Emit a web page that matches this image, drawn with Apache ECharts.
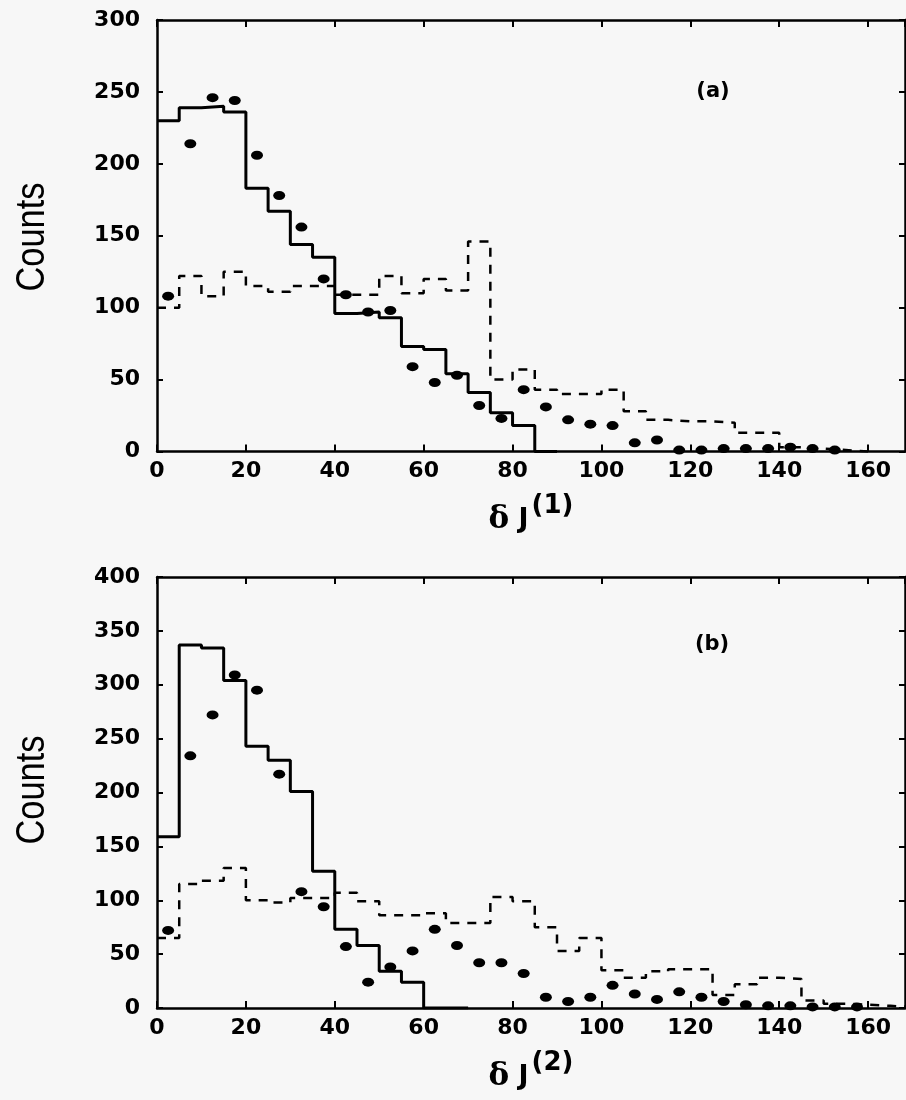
<!DOCTYPE html>
<html><head><meta charset="utf-8">
<script src="https://cdn.jsdelivr.net/npm/echarts@6/dist/echarts.min.js"></script>
<style>html,body{margin:0;padding:0;background:#f7f7f7}#c{width:906px;height:1100px}</style>
</head><body><div id="c"></div>
<script>
// bin left edges (bin width 5)
const binEdges = [0,5,10,15,20,25,30,35,40,45,50,55,60,65,70,75,80,85,90,95,100,105,110,115,120,125,130,135,140,145,150,155,160,165,170];
const xTickLabels = [0,20,40,60,80,100,120,140,160];
const panelLabels = ['(a)','(b)'];
const axisSup = ['(1)','(2)'];
const yTitle = 'Counts';

// Panel (a): delta J(1)
const aSolid  = [230,239,240,236,183,167,144,135,96,97,93,73,71,54,41,27,18,0];
const aDashed = [100,122,108,125,115,111,115,115,109,109,122,110,120,112,146,50,57,43,40,40,43,28,22,21,21,20,13,13,3,2,1,0];
const aDots   = [108,214,246,244,206,178,156,120,109,97,98,59,48,53,32,23,43,31,22,19,18,6,8,1,1,2,2,2,3,2,1];

// Panel (b): delta J(2)
const bSolid  = [159,337,334,304,243,230,201,127,73,58,34,24,0,0];
const bDashed = [65,115,118,130,100,98,102,102,107,99,86,86,88,79,79,103,99,75,53,65,35,28,34,36,36,12,22,28,27,7,4,3,2,1];
const bDots   = [72,234,272,309,295,217,108,94,57,24,38,53,73,58,42,42,32,10,6,10,21,13,8,15,10,6,3,2,2,1,1,1];

function stepData(vals){
  const d = vals.map((v,i)=>[binEdges[i], v]);
  d.push([binEdges[vals.length], vals[vals.length-1]]);
  return d;
}
function dotData(vals){
  return vals.map((v,i)=>[(binEdges[i]+binEdges[i+1])/2, v]);
}

const FONT = 'DejaVu Sans';
const XMAX = 168.3;
const grids = [
  {left:157, top:20, width:748, height:431.5},
  {left:157, top:577, width:748, height:431}
];
const yMax = [300, 400];

const xAxes = [], yAxes = [], series = [];
grids.forEach((g, gi)=>{
  xAxes.push({
    gridIndex: gi, type:'value', min:0, max:XMAX, interval:20, position:'bottom',
    axisLine:{show:true, onZero:false, lineStyle:{color:'#000', width:2.5}},
    axisTick:{show:true, inside:true, length:7, lineStyle:{color:'#000', width:2}},
    axisLabel:{show:true, margin:9, color:'#000', fontFamily:FONT, fontWeight:'bold', fontSize:22,
      showMaxLabel:false,
      formatter:(v)=> xTickLabels.indexOf(v) >= 0 ? String(v) : ''},
    splitLine:{show:false},
    name: '{d|δ} {j|J}{s|' + axisSup[gi] + '}',
    nameLocation:'middle', nameGap:42,
    nameTextStyle:{color:'#000', rich:{
      d:{fontFamily:'DejaVu Serif', fontWeight:'bold', fontSize:31, lineHeight:42, verticalAlign:'bottom', color:'#000', padding:[0,4,0,0]},
      j:{fontFamily:FONT, fontWeight:'bold', fontSize:27, lineHeight:42, verticalAlign:'bottom', color:'#000', padding:[0,3,2,2]},
      s:{fontFamily:FONT, fontWeight:'bold', fontSize:26, lineHeight:42, verticalAlign:'top', color:'#000'}
    }}
  });
  xAxes.push({
    gridIndex: gi, type:'value', min:0, max:XMAX, interval:20, position:'top',
    axisLine:{show:true, onZero:false, lineStyle:{color:'#000', width:2.5}},
    axisTick:{show:true, inside:true, length:7, lineStyle:{color:'#000', width:2}},
    axisLabel:{show:false}, splitLine:{show:false}
  });
  yAxes.push({
    gridIndex: gi, type:'value', min:0, max:yMax[gi], interval:50, position:'left',
    axisLine:{show:true, onZero:false, lineStyle:{color:'#000', width:2.5}},
    axisTick:{show:true, inside:true, length:6, lineStyle:{color:'#000', width:2}},
    axisLabel:{show:true, margin:17, color:'#000', fontFamily:FONT, fontWeight:'bold', fontSize:22},
    splitLine:{show:false}
  });
  yAxes.push({
    gridIndex: gi, type:'value', min:0, max:yMax[gi], interval:50, position:'right',
    axisLine:{show:true, onZero:false, lineStyle:{color:'#000', width:2.5}},
    axisTick:{show:true, inside:true, length:6, lineStyle:{color:'#000', width:2}},
    axisLabel:{show:false}, splitLine:{show:false}
  });
});

const sets = [[aSolid,aDashed,aDots],[bSolid,bDashed,bDots]];
sets.forEach((s, gi)=>{
  const xi = gi*2, yi = gi*2;
  series.push({type:'line', xAxisIndex:xi, yAxisIndex:yi, step:'end', data:stepData(s[0]),
    symbol:'none', lineStyle:{color:'#000', width:3}, clip:true, z:3});
  series.push({type:'line', xAxisIndex:xi, yAxisIndex:yi, step:'end', data:stepData(s[1]),
    symbol:'none', lineStyle:{color:'#000', width:2.5, type:[9,8]}, clip:true, z:2});
  series.push({type:'scatter', xAxisIndex:xi, yAxisIndex:yi, data:dotData(s[2]),
    symbol:'circle', symbolSize:[12,9], itemStyle:{color:'#000', opacity:1}, clip:true, z:4});
});

const countsLabel = (cy)=>({
  type:'text', x:33, y:cy, rotation:Math.PI/2, scaleX:0.84, scaleY:1,
  style:{text:yTitle, fill:'#000', font:'41px "Liberation Sans", Arial, sans-serif', align:'center', verticalAlign:'middle'}
});

const chart = echarts.init(document.getElementById('c'), null, {renderer:'canvas'});
chart.setOption({
  backgroundColor:'#f7f7f7',
  animation:false,
  grid: grids.map(g=>Object.assign({containLabel:false}, g)),
  xAxis: xAxes, yAxis: yAxes, series: series,
  graphic:[
    countsLabel(237),
    countsLabel(790),
    {type:'text', x:713, y:92, style:{text:panelLabels[0], fill:'#000', font:'bold 21px "DejaVu Sans"', align:'center', verticalAlign:'middle'}},
    {type:'text', x:712, y:645, style:{text:panelLabels[1], fill:'#000', font:'bold 21px "DejaVu Sans"', align:'center', verticalAlign:'middle'}}
  ]
});
</script></body></html>
